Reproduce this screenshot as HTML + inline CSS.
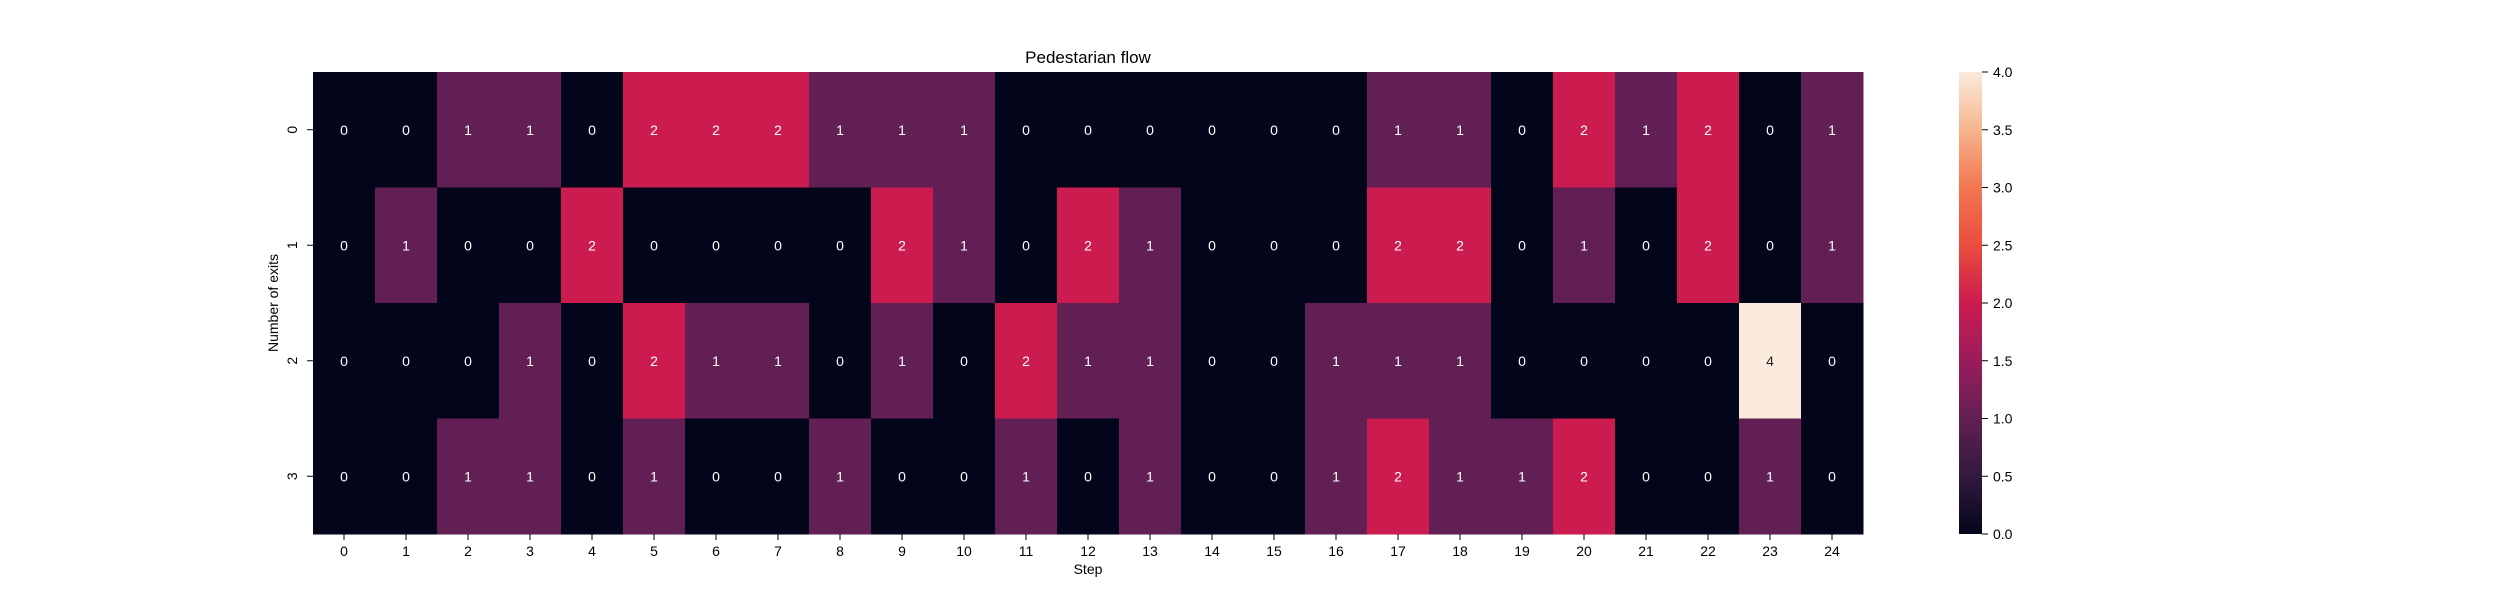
<!DOCTYPE html>
<html><head><meta charset="utf-8"><style>
body{margin:0;background:#fff;}
svg text{font-family:"Liberation Sans","DejaVu Sans",sans-serif;}
</style></head><body>
<svg id="chart" width="2500" height="600" xmlns="http://www.w3.org/2000/svg">
<defs>
<linearGradient id="rocket" x1="0" y1="1" x2="0" y2="0">
<stop offset="0" stop-color="#03051a"/>
<stop offset="0.125" stop-color="#331a3e"/>
<stop offset="0.25" stop-color="#611f53"/>
<stop offset="0.375" stop-color="#9b1c5b"/>
<stop offset="0.5" stop-color="#cb1b4f"/>
<stop offset="0.625" stop-color="#ea4d3e"/>
<stop offset="0.75" stop-color="#f37651"/>
<stop offset="0.875" stop-color="#f6b48e"/>
<stop offset="1" stop-color="#faebdd"/>
</linearGradient>
</defs>
<text x="1088" y="63" font-size="17" text-anchor="middle">Pedestarian flow</text>
<g id="cells"></g>
<g id="xticks"></g>
<g id="yticks"></g>
<text x="1088" y="574" font-size="14" text-anchor="middle">Step</text>
<text x="278" y="303" font-size="14" text-anchor="middle" transform="rotate(-90 278 303)">Number of exits</text>
<rect x="1959" y="72" width="23" height="462" fill="url(#rocket)"/>
<g id="cbticks"></g>
</svg>
<script>
const steps = [0,1,2,3,4,5,6,7,8,9,10,11,12,13,14,15,16,17,18,19,20,21,22,23,24];
const exits = [0,1,2,3];
const row0 = [0,0,1,1,0,2,2,2,1,1,1,0,0,0,0,0,0,1,1,0,2,1,2,0,1];
const row1 = [0,1,0,0,2,0,0,0,0,2,1,0,2,1,0,0,0,2,2,0,1,0,2,0,1];
const row2 = [0,0,0,1,0,2,1,1,0,1,0,2,1,1,0,0,1,1,1,0,0,0,0,4,0];
const row3 = [0,0,1,1,0,1,0,0,1,0,0,1,0,1,0,0,1,2,1,1,2,0,0,1,0];
const cbTicks = [0.0,0.5,1.0,1.5,2.0,2.5,3.0,3.5,4.0];
const rows = [row0,row1,row2,row3];
const NS='http://www.w3.org/2000/svg';
const L=313,T=72,W=1550,H=462,vmax=4;
const cw=W/steps.length, rh=H/exits.length;
const xPos=i=>L+i*cw, yPos=j=>T+j*rh;
const cbY=v=>534-(v/vmax)*462;
const stops=[[0,[3,5,26]],[0.125,[51,26,62]],[0.25,[97,31,83]],[0.375,[155,28,91]],[0.5,[203,27,79]],[0.625,[234,77,62]],[0.75,[243,118,81]],[0.875,[246,180,142]],[1,[250,235,221]]];
function color(v){const t=v/vmax;for(let k=0;k<stops.length-1;k++){const[a,ca]=stops[k],[b,cb]=stops[k+1];if(t<=b){const f=(t-a)/(b-a);return 'rgb('+ca.map((c,i)=>Math.round(c+(cb[i]-c)*f)).join(',')+')';}}return 'rgb(250,235,221)';}
function mk(tag,attrs,parent){const e=document.createElementNS(NS,tag);for(const k in attrs)e.setAttribute(k,attrs[k]);parent.appendChild(e);return e;}
const cells=document.getElementById('cells');
rows.forEach((r,j)=>r.forEach((v,i)=>{
 const rc=mk('rect',{x:xPos(i),y:yPos(j),width:cw+0.5,height:rh+0.5,fill:color(v)},cells);
 
 
 const t=mk('text',{x:xPos(i)+cw/2,y:yPos(j)+rh/2+5,'font-size':14,'text-anchor':'middle',fill:v/vmax>0.6?'#262626':'#ffffff'},cells);
 t.textContent=v;
 
 
}));
const xt=document.getElementById('xticks');
steps.forEach((s,i)=>{
 const x=xPos(i)+cw/2;
 mk('line',{x1:x,x2:x,y1:534,y2:540,stroke:'#000','stroke-width':1},xt);
 const t=mk('text',{x:x,y:556,'font-size':14,'text-anchor':'middle'},xt);
 t.textContent=s;
 
 
});
const yt=document.getElementById('yticks');
exits.forEach((e,j)=>{
 const y=yPos(j)+rh/2;
 mk('line',{x1:307,x2:313,y1:y,y2:y,stroke:'#000','stroke-width':1},yt);
 const t=mk('text',{x:297,y:y,'font-size':14,'text-anchor':'middle',transform:'rotate(-90 297 '+y+')'},yt);
 t.textContent=e;
 
 
});
const cbt=document.getElementById('cbticks');
cbTicks.forEach(v=>{
 const y=cbY(v);
 mk('line',{x1:1982,x2:1988,y1:y,y2:y,stroke:'#000','stroke-width':1},cbt);
 const t=mk('text',{x:1993,y:y+5,'font-size':14},cbt);
 t.textContent=v.toFixed(1);
 
 
});
</script>
</body></html>
